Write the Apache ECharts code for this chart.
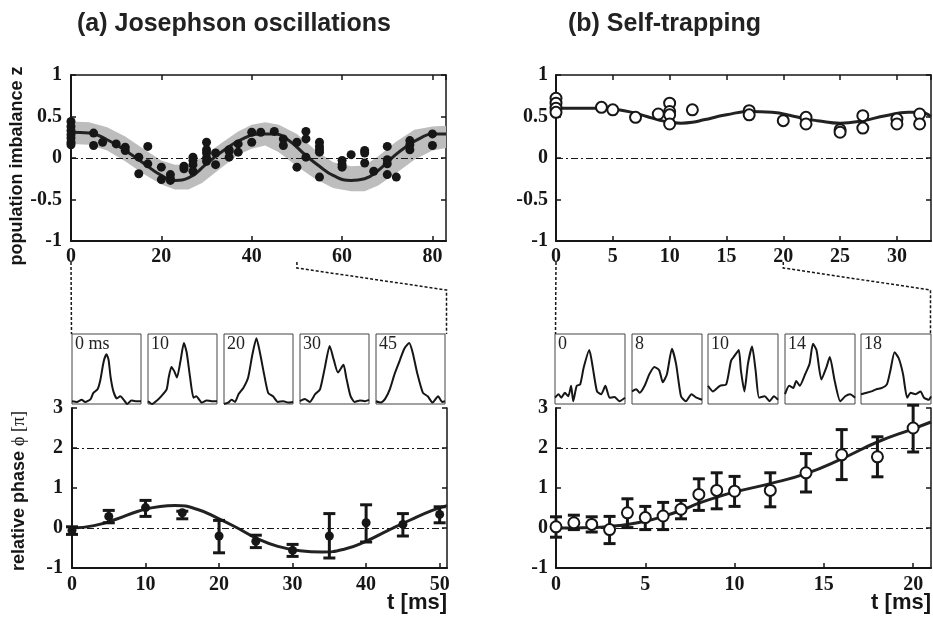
<!DOCTYPE html>
<html><head><meta charset="utf-8">
<script src="https://cdn.jsdelivr.net/npm/echarts/dist/echarts.min.js"></script>
<style>html,body{margin:0;padding:0;background:#fff}#c{width:933px;height:622px}</style>
</head><body><div id="c"></div>
<script>
// ---------------- DATA ----------------
// (a) top: population imbalance z vs t [ms]
const aTopT = [0,0,0,0,0,0,0, 5,5, 7, 10, 12,12, 15,15, 17,17, 20,20, 22,22,22, 25,25, 27,27,27,27,
  30,30,30,30,30, 32,32, 35,35,35, 37,37, 40,40, 42, 45, 47,47, 50,50, 52,52,52, 55,55,55,55,55,
  60,60,60, 62, 65,65,65, 67, 70,70,70,70, 72, 75,75,75, 80,80];
const aTopZ = [0.44,0.38,0.33,0.28,0.24,0.19,0.16, 0.30,0.15, 0.19, 0.17, 0.13,0.09, 0.01,-0.19, 0.14,-0.07,
  -0.11,-0.26, -0.20,-0.25,-0.27, -0.10,-0.13, 0.01,-0.03,-0.08,-0.16,
  0.19,0.10,0.06,0.00,-0.04, 0.06,-0.08, 0.08,0.01,0.10, 0.17,0.07, 0.31,0.19, 0.31, 0.32, 0.23,0.15,
  0.19,-0.11, 0.32,0.23,0.01, 0.19,0.14,0.10,0.07,-0.23,
  -0.03,-0.08,-0.11, 0.04, 0.09,0.06,-0.06, -0.16, 0.14,-0.02,-0.07,-0.20, -0.23, 0.21,0.16,0.10, 0.29,0.15];
const aFitT = [0,4,8,12,16,20,23,26,30,34,38,42,45,48,52,55,58,62,65,68,71,74,77,80,83];
const aFitZ = [0.31,0.30,0.22,0.09,-0.06,-0.21,-0.27,-0.24,-0.07,0.10,0.23,0.29,0.29,0.22,0.03,-0.10,-0.21,-0.27,-0.25,-0.15,0.00,0.13,0.23,0.29,0.29];
const aBandT  = [0,4,8,12,16,20,23,26,29,33,37,40,43,46,50,54,58,62,65,68,72,76,80,83];
const aBandHi = [0.44,0.43,0.37,0.26,0.11,-0.03,-0.08,-0.08,0.01,0.17,0.32,0.40,0.43,0.40,0.29,0.10,-0.05,-0.10,-0.09,0.02,0.20,0.34,0.38,0.39];
const aBandLo = [0.17,0.16,0.09,-0.04,-0.19,-0.32,-0.38,-0.38,-0.30,-0.13,0.04,0.11,0.15,0.07,-0.10,-0.25,-0.36,-0.40,-0.40,-0.33,-0.18,-0.02,0.09,0.12];

// (b) top
const bTopT = [0,0,0,0, 4, 5, 7, 9, 10,10,10,10, 12, 17,17, 20, 22,22, 25,25, 27,27, 30,30, 32,32];
const bTopZ = [0.72,0.66,0.60,0.55, 0.61, 0.58, 0.49, 0.53, 0.66,0.56,0.52,0.41, 0.58, 0.57,0.52, 0.45,
  0.49,0.41, 0.34,0.31, 0.51,0.36, 0.47,0.41, 0.53,0.41];
const bFitT = [0,2,4,5,6,7,8,9,10,11,12,13,15,17,19,21,22,23,25,27,29,31,32,33];
const bFitZ = [0.60,0.60,0.60,0.59,0.57,0.54,0.50,0.46,0.43,0.42,0.43,0.46,0.52,0.56,0.55,0.50,0.47,0.45,0.42,0.45,0.51,0.55,0.55,0.50];

// (a) bottom: relative phase
const aPhT  = [0,5,10,15,20,25,30,35,40,45,50];
const aPh   = [-0.06,0.29,0.51,0.38,-0.20,-0.33,-0.56,-0.20,0.13,0.09,0.34];
const aPhHi = [0.03,0.44,0.69,0.42,0.19,-0.18,-0.41,0.36,0.58,0.36,0.53];
const aPhLo = [-0.16,0.13,0.29,0.23,-0.62,-0.49,-0.71,-0.75,-0.35,-0.20,0.13];
const aPhFitT = [0,3,6,9,12,14,17,20,22.5,25,28,31,34,37,40,43,46,49,51];
const aPhFit  = [0,0.06,0.22,0.42,0.54,0.56,0.47,0.23,0,-0.25,-0.46,-0.57,-0.60,-0.53,-0.33,-0.06,0.20,0.44,0.56];

// (b) bottom
const bPhT  = [0,1,2,3,4,5,6,7,8,9,10,12,14,16,18,20];
const bPh   = [0.03,0.13,0.09,-0.04,0.38,0.26,0.30,0.47,0.84,0.94,0.92,0.94,1.38,1.83,1.78,2.50];
const bPhHi = [0.28,0.32,0.28,0.29,0.73,0.54,0.64,0.69,1.23,1.38,1.29,1.38,1.86,2.46,2.28,3.07];
const bPhLo = [-0.23,-0.04,-0.10,-0.39,0.01,-0.04,-0.04,0.23,0.44,0.48,0.54,0.53,0.90,1.21,1.28,1.90];
const bPhFitT = [0,1,2,3,4,5,6,7,8,9,10,12,14,16,18,20,21];
const bPhFit  = [0,0,0.01,0.04,0.09,0.17,0.29,0.44,0.62,0.77,0.90,1.11,1.36,1.73,2.15,2.48,2.65];

// inset profiles (normalised position 0..1, density 0..1)
const insetLabelsA = ['0 ms','10','20','30','45'];
const insetLabelsB = ['0','8','10','14','18'];
const profA = [
 [[0,0.04],[0.07,0.03],[0.14,0.06],[0.19,0.03],[0.27,0.07],[0.31,0.16],[0.37,0.21],[0.41,0.34],[0.46,0.61],[0.50,0.71],[0.53,0.63],[0.56,0.38],[0.60,0.18],[0.65,0.08],[0.70,0.11],[0.75,0.06],[0.80,0.0],[0.86,0.05],[0.92,0.04],[1,0.04]],
 [[0,0.04],[0.06,0.0],[0.13,0.05],[0.20,0.12],[0.27,0.21],[0.30,0.38],[0.34,0.53],[0.38,0.47],[0.42,0.38],[0.47,0.61],[0.52,0.87],[0.56,0.74],[0.61,0.38],[0.66,0.09],[0.70,0.11],[0.78,0.02],[0.85,0.05],[0.92,0.04],[1,0.04]],
 [[0,0.0],[0.06,0.02],[0.11,0.06],[0.16,0.03],[0.21,0.14],[0.28,0.23],[0.35,0.38],[0.41,0.70],[0.47,0.94],[0.52,0.74],[0.58,0.43],[0.64,0.16],[0.71,0.11],[0.78,0.03],[0.86,0.04],[0.93,0.02],[1,0.03]],
 [[0,0.04],[0.07,0.07],[0.14,0.03],[0.22,0.14],[0.29,0.21],[0.36,0.52],[0.43,0.83],[0.49,0.63],[0.55,0.45],[0.63,0.56],[0.67,0.38],[0.73,0.12],[0.79,0.03],[0.87,0.05],[0.94,0.04],[1,0.06]],
 [[0,0.04],[0.07,0.02],[0.13,0.07],[0.20,0.21],[0.27,0.43],[0.34,0.61],[0.41,0.79],[0.48,0.87],[0.53,0.74],[0.60,0.43],[0.68,0.16],[0.75,0.11],[0.82,0.02],[0.90,0.11],[0.96,0.03],[1,0.04]]
];
const profB = [
 [[0,0.09],[0.05,0.14],[0.09,0.09],[0.14,0.16],[0.19,0.11],[0.23,0.26],[0.26,0.04],[0.31,0.26],[0.36,0.28],[0.41,0.52],[0.49,0.77],[0.54,0.52],[0.60,0.18],[0.66,0.14],[0.72,0.26],[0.78,0.09],[0.85,0.10],[0.92,0.04],[1,0.09]],
 [[0,0.18],[0.06,0.21],[0.11,0.16],[0.18,0.26],[0.25,0.43],[0.32,0.53],[0.39,0.48],[0.44,0.31],[0.50,0.43],[0.57,0.79],[0.63,0.57],[0.70,0.11],[0.77,0.04],[0.85,0.14],[0.92,0.09],[1,0.06]],
 [[0,0.26],[0.07,0.18],[0.17,0.26],[0.26,0.28],[0.33,0.62],[0.38,0.69],[0.44,0.77],[0.47,0.48],[0.52,0.18],[0.57,0.57],[0.63,0.82],[0.68,0.48],[0.73,0.09],[0.81,0.11],[0.88,0.04],[0.94,0.11],[1,0.06]],
 [[0,0.14],[0.06,0.26],[0.12,0.23],[0.16,0.33],[0.21,0.26],[0.29,0.43],[0.35,0.57],[0.40,0.86],[0.45,0.77],[0.52,0.35],[0.59,0.52],[0.64,0.67],[0.71,0.33],[0.79,0.04],[0.86,0.11],[0.93,0.14],[1,0.09]],
 [[0,0.14],[0.08,0.16],[0.15,0.18],[0.22,0.21],[0.30,0.23],[0.37,0.28],[0.42,0.48],[0.48,0.74],[0.54,0.65],[0.60,0.43],[0.66,0.09],[0.71,0.16],[0.78,0.14],[0.85,0.18],[0.90,0.09],[0.97,0.06],[1,0.11]]
];

// ---------------- CHART ----------------
const chart = echarts.init(document.getElementById('c'), null, {renderer:'canvas'});
const INK = '#161616';
const tickFont = {fontFamily:'Liberation Serif', fontWeight:'bold', fontSize:20, color:INK};
const zip = (a,b) => a.map((v,i)=>[v,b[i]]);

const grids = [
  {left:71, top:75, width:375, height:166},   // 0 a-top
  {left:556, top:75, width:375, height:166},  // 1 b-top
  {left:72, top:408, width:375, height:160},  // 2 a-bottom
  {left:556, top:408, width:375, height:160}  // 3 b-bottom
];
const insetLeftA = [72,148,224,300,376], insetLeftB = [555,632,708,785,861];
insetLeftA.forEach(l => grids.push({left:l, top:334, width:69, height:70}));
insetLeftB.forEach(l => grids.push({left:l, top:334, width:70, height:70}));
grids.forEach(g => { g.show = g.top === 334; g.borderColor = '#444'; g.borderWidth = 1; g.backgroundColor='transparent'; g.containLabel=false; g.outerBoundsMode='none'; });

function mainAxis(dim, gi, min, max, iv, margin) {
  return {gridIndex:gi, type:'value', min, max, interval:iv,
    position: dim==='x' ? 'bottom' : 'left',
    axisLine:{show:true, onZero:false, lineStyle:{color:INK, width:2}},
    axisTick:{show:true, inside:true, length:5, lineStyle:{color:INK, width:1.5}},
    axisLabel:Object.assign({show:true, margin, showMaxLabel: dim==='x' ? false : true}, tickFont),
    splitLine:{show:false}};
}
function secAxis(dim, gi, min, max, iv, ticks) {
  return {gridIndex:gi, type:'value', min, max, interval:iv,
    position: dim==='x' ? 'top' : 'right',
    axisLine:{show:true, onZero:false, lineStyle:{color:INK, width:1.5}},
    axisTick:{show:ticks, inside:true, length:5, lineStyle:{color:INK, width:1.5}},
    axisLabel:{show:false}, splitLine:{show:false}};
}
const nameRich = {
  a:{fontFamily:'Liberation Sans', fontWeight:'bold', fontSize:18, color:INK},
  b:{fontFamily:'Liberation Serif, DejaVu Serif', fontSize:18, color:INK}
};
const xAxes = [
  mainAxis('x',0,0,83,20,6), mainAxis('x',1,0,33,5,6), mainAxis('x',2,0,51,10,7), mainAxis('x',3,0,21,5,7),
  secAxis('x',0,0,83,20,true), secAxis('x',1,0,33,5,true)
];
const yAxes = [
  mainAxis('y',0,-1,1,0.5,9), mainAxis('y',1,-1,1,0.5,8), mainAxis('y',2,-1,3,1,9), mainAxis('y',3,-1,3,1,8),
  secAxis('y',0,-1,1,0.5,true), secAxis('y',1,-1,1,0.5,true), secAxis('y',2,-1,3,1,true), secAxis('y',3,-1,3,1,true)
];
Object.assign(yAxes[0], {name:'population imbalance z', nameLocation:'middle', nameGap:44, nameRotate:90,
  nameTextStyle:{fontFamily:'Liberation Sans', fontWeight:'bold', fontSize:18, color:INK, padding:[0,16,0,0]}});
Object.assign(yAxes[2], {name:'{a|relative phase }{b|ϕ [π]}', nameLocation:'middle', nameGap:44, nameRotate:90,
  nameTextStyle:{rich:nameRich, padding:[0,6,0,0]}});
for (let i=0;i<10;i++) {
  xAxes.push({gridIndex:4+i, type:'value', min:0, max:1, show:false});
  yAxes.push({gridIndex:4+i, type:'value', min:0, max:1, show:false});
}

const dashDot = {type:[7,3,2,3], width:1, color:INK};
function mline(vals) {
  return {silent:true, symbol:'none', label:{show:false}, lineStyle:dashDot, emphasis:{disabled:true},
    data: vals.map(v=>({yAxis:v}))};
}
function bandItem(params, api) {
  if (params.dataIndex !== 0) return null;
  const pts = [];
  for (let i=0;i<aBandT.length;i++) pts.push(api.coord([aBandT[i], aBandHi[i]]));
  for (let i=aBandT.length-1;i>=0;i--) pts.push(api.coord([aBandT[i], aBandLo[i]]));
  return {type:'polygon', shape:{points:pts}, style:{fill:'#bdbdbd'}};
}
function errItem(params, api) {
  const x = api.value(0), lo = api.value(1), hi = api.value(2);
  const a = api.coord([x, hi]), b = api.coord([x, lo]), w = 6;
  const st = {stroke:INK, lineWidth:3};
  return {type:'group', children:[
    {type:'line', shape:{x1:a[0],y1:a[1],x2:b[0],y2:b[1]}, style:st},
    {type:'line', shape:{x1:a[0]-w,y1:a[1],x2:a[0]+w,y2:a[1]}, style:st},
    {type:'line', shape:{x1:b[0]-w,y1:b[1],x2:b[0]+w,y2:b[1]}, style:st}
  ]};
}
const fitStyle = {color:'#222', width:3};
const series = [
  {type:'custom', xAxisIndex:0, yAxisIndex:0, z:1, silent:true, renderItem:bandItem,
    data: aBandT.map((t,i)=>[t,aBandLo[i],aBandHi[i]]), encode:{x:0, y:[1,2]}},
  {type:'line', xAxisIndex:0, yAxisIndex:0, z:3, smooth:0.5, showSymbol:false, lineStyle:fitStyle,
    data: zip(aFitT,aFitZ), markLine: mline([0])},
  {type:'scatter', xAxisIndex:0, yAxisIndex:0, z:4, symbolSize:9, itemStyle:{color:INK, opacity:1},
    data: zip(aTopT,aTopZ)},
  {type:'line', xAxisIndex:1, yAxisIndex:1, z:3, smooth:0.5, showSymbol:false, lineStyle:fitStyle,
    data: zip(bFitT,bFitZ), markLine: mline([0])},
  {type:'scatter', xAxisIndex:1, yAxisIndex:1, z:4, symbolSize:11,
    itemStyle:{color:'#fff', borderColor:INK, borderWidth:2, opacity:1}, data: zip(bTopT,bTopZ)},
  {type:'line', xAxisIndex:2, yAxisIndex:2, z:3, smooth:0.5, showSymbol:false, lineStyle:fitStyle,
    data: zip(aPhFitT,aPhFit), markLine: mline([0,2])},
  {type:'custom', xAxisIndex:2, yAxisIndex:2, z:4, silent:true, renderItem:errItem,
    data: aPhT.map((t,i)=>[t,aPhLo[i],aPhHi[i]]), encode:{x:0, y:[1,2]}},
  {type:'scatter', xAxisIndex:2, yAxisIndex:2, z:5, symbolSize:9, itemStyle:{color:INK, opacity:1},
    data: zip(aPhT,aPh)},
  {type:'line', xAxisIndex:3, yAxisIndex:3, z:3, smooth:0.5, showSymbol:false, lineStyle:fitStyle,
    data: zip(bPhFitT,bPhFit), markLine: mline([0,2])},
  {type:'custom', xAxisIndex:3, yAxisIndex:3, z:4, silent:true, renderItem:errItem,
    data: bPhT.map((t,i)=>[t,bPhLo[i],bPhHi[i]]), encode:{x:0, y:[1,2]}},
  {type:'scatter', xAxisIndex:3, yAxisIndex:3, z:5, symbolSize:11,
    itemStyle:{color:'#fff', borderColor:INK, borderWidth:2, opacity:1}, data: zip(bPhT,bPh)}
];
profA.concat(profB).forEach((p,i) => {
  // secondary axes occupy x indices 4,5 and y indices 4..7 ; insets follow
  series.push({type:'line', xAxisIndex:6+i, yAxisIndex:8+i, showSymbol:false, smooth:0.2,
    lineStyle:{color:INK, width:2}, data:p, silent:true});
});

const titleStyle = {fontFamily:'Liberation Sans', fontWeight:'bold', fontSize:25, color:'#222'};
chart.setOption({
  animation:false,
  backgroundColor:'#fff',
  title:[
    {text:'(a) Josephson oscillations', left:72, top:7, textStyle:titleStyle},
    {text:'(b) Self-trapping', left:563, top:7, textStyle:titleStyle}
  ],
  grid: grids, xAxis: xAxes, yAxis: yAxes, series: series
});

// zoom connectors and text overlays
const gr = [];
const txt = {fontFamily:'Liberation Sans', fontWeight:'bold', fontSize:22, fill:INK};
gr.push({type:'text', right: 933-447, top:592, style:Object.assign({text:'t [ms]'}, txt)});
gr.push({type:'text', right: 933-931, top:592, style:Object.assign({text:'t [ms]'}, txt)});
insetLeftA.forEach((l,i)=>gr.push({type:'text', left:l+3, top:335,
  style:{text:insetLabelsA[i], fontFamily:'Liberation Serif', fontSize:18, fill:'#222'}}));
insetLeftB.forEach((l,i)=>gr.push({type:'text', left:l+3, top:335,
  style:{text:insetLabelsB[i], fontFamily:'Liberation Serif', fontSize:18, fill:'#222'}}));
const dashSt = {stroke:INK, lineWidth:1.5, lineDash:[3,2], fill:null};
function connectors(gi, tEnd, boxL, boxR) {
  const p0 = chart.convertToPixel({gridIndex:gi}, [0,-1]);
  const p1 = chart.convertToPixel({gridIndex:gi}, [tEnd,-1]);
  gr.push({type:'polyline', shape:{points:[[p0[0],262],[boxL,334]]}, style:dashSt, silent:true});
  gr.push({type:'polyline', shape:{points:[[p1[0],262],[p1[0],268],[boxR,290],[boxR,334]]}, style:dashSt, silent:true});
}
connectors(0, 50, 71.5, 446.5);
connectors(1, 20, 555.5, 930.5);
chart.setOption({graphic: gr});
</script></body></html>
